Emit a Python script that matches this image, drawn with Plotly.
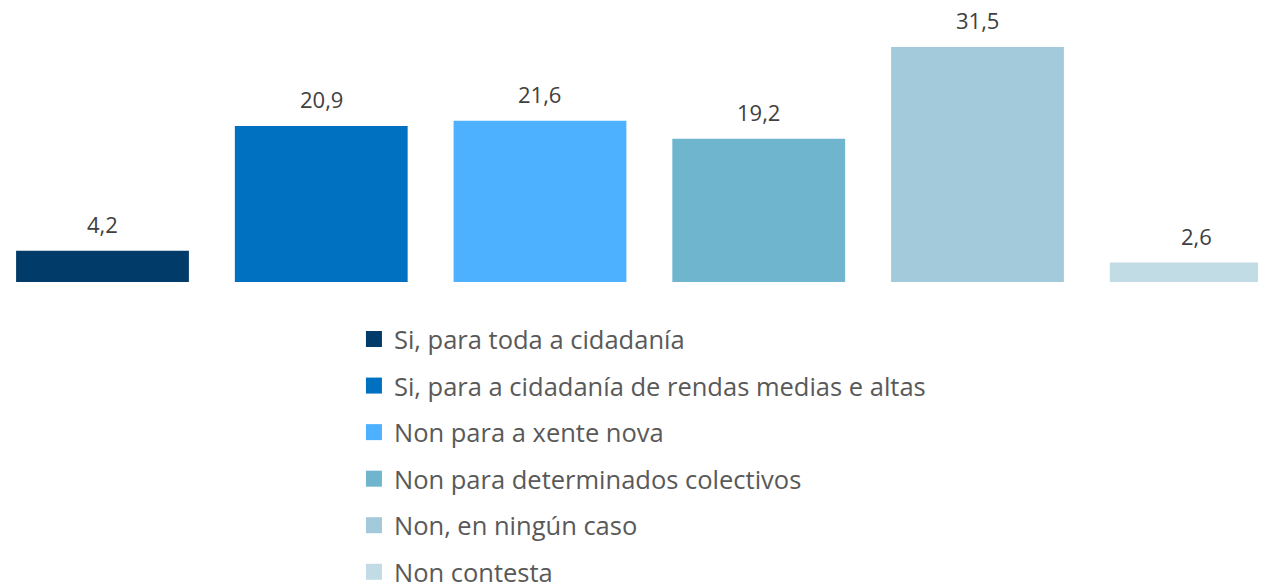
import plotly.graph_objects as go

categories = [
    "Si, para toda a cidadanía",
    "Si, para a cidadanía de rendas medias e altas",
    "Non para a xente nova",
    "Non para determinados colectivos",
    "Non, en ningún caso",
    "Non contesta",
]
values = [4.2, 20.9, 21.6, 19.2, 31.5, 2.6]
colors = ["#003B69", "#0070C0", "#4DB1FF", "#6FB5CD", "#A2CADB", "#C1DCE5"]

FONT = "Open Sans"
fig = go.Figure()
for i, (name, v, c) in enumerate(zip(categories, values, colors)):
    fig.add_trace(go.Bar(
        x=[i], y=[v], name=name, marker=dict(color=c, line=dict(width=0)),
        width=0.79, showlegend=False, hoverinfo="skip",
    ))
    fig.add_annotation(
        x=i, y=v, text=f"{v:.1f}".replace(".", ","), showarrow=False,
        yanchor="bottom", yshift=10, font=dict(family=FONT, size=22, color="#404040"),
    )
# legend entries (square swatches)
for i, (name, c) in enumerate(zip(categories, colors)):
    fig.add_trace(go.Scatter(
        x=[None], y=[None], mode="markers", name=name,
        marker=dict(symbol="square", size=16, color=c),
        legendgroup=f"g{i}", hoverinfo="skip",
    ))

fig.update_layout(
    width=1258, height=577,
    margin=dict(l=0, r=0, t=0, b=0, autoexpand=False),
    paper_bgcolor="white", plot_bgcolor="white",
    barmode="overlay",
    showlegend=True,
    legend=dict(
        orientation="v", x=0.275, xanchor="left", y=0.4663, yanchor="top",
        font=dict(family=FONT, size=25.5, color="#595959"),
        tracegroupgap=10.4, traceorder="grouped", bgcolor="rgba(0,0,0,0)",
    ),
    xaxis=dict(range=[-0.432, 5.319], visible=False, fixedrange=True),
    yaxis=dict(range=[0, 36.73], domain=[303 / 577, 1], visible=False, fixedrange=True),
    font=dict(family=FONT),
)

fig.write_html("out.html")
